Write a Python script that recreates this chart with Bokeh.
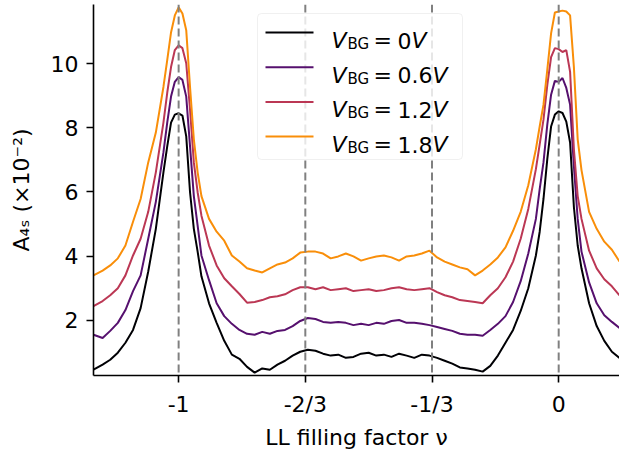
from bokeh.plotting import figure
from bokeh.models import Range1d, FixedTicker, Span, BoxAnnotation, Label, Arrow, CustomJSTickFormatter
from bokeh.embed import file_html
from bokeh.resources import INLINE

# ---------------- data ----------------
nu = [-1.224, -1.20, -1.18, -1.16, -1.14, -1.12, -1.10, -1.08, -1.06, -1.04,
      -1.03, -1.02, -1.01, -1.00, -0.99, -0.98, -0.97, -0.96, -0.95, -0.94,
      -0.92, -0.90, -0.88, -0.86, -0.84, -0.82, -0.80, -0.78, -0.76, -0.74,
      -0.72, -0.70, -0.68, -0.66, -0.64, -0.62, -0.60, -0.58, -0.56, -0.54,
      -0.52, -0.50, -0.48, -0.46, -0.44, -0.42, -0.40, -0.38, -0.36, -0.34,
      -0.32, -0.30, -0.28, -0.26, -0.24, -0.22, -0.20, -0.18, -0.16, -0.14,
      -0.12, -0.10, -0.08, -0.06, -0.05, -0.04, -0.03, -0.02, -0.01, 0.00,
      0.01, 0.02, 0.03, 0.04, 0.05, 0.06, 0.08, 0.10, 0.12, 0.14, 0.16]

a_0v = [0.46, 0.62, 0.77, 0.99, 1.30, 1.70, 2.38, 3.52, 4.85, 6.61,
        7.42, 8.16, 8.41, 8.45, 8.38, 7.73, 5.99, 4.85, 4.14, 3.37,
        2.53, 1.92, 1.36, 0.93, 0.80, 0.55, 0.37, 0.50, 0.46, 0.62,
        0.74, 0.90, 1.02, 1.08, 1.05, 0.96, 0.90, 0.93, 0.83, 0.86,
        0.96, 0.99, 0.90, 0.93, 0.86, 0.96, 0.90, 0.83, 0.93, 0.90,
        0.83, 0.74, 0.65, 0.53, 0.50, 0.46, 0.40, 0.58, 0.90, 1.30,
        1.70, 2.29, 3.00, 4.02, 4.76, 5.78, 7.02, 8.04, 8.41, 8.51,
        8.46, 8.19, 7.54, 5.53, 4.33, 3.62, 2.53, 1.82, 1.36, 1.02, 0.83]

a_06v = [1.55, 1.45, 1.67, 1.92, 2.32, 2.91, 3.40, 4.54, 5.69, 7.23,
         8.16, 8.97, 9.43, 9.58, 9.49, 8.97, 7.42, 5.87, 4.95, 4.02,
         3.25, 2.53, 2.13, 1.89, 1.70, 1.58, 1.55, 1.64, 1.58, 1.67,
         1.70, 1.82, 1.98, 2.07, 2.04, 1.95, 1.92, 1.95, 1.92, 1.85,
         1.89, 1.85, 1.92, 1.89, 1.98, 2.01, 1.92, 1.92, 1.89, 1.85,
         1.79, 1.73, 1.67, 1.58, 1.55, 1.55, 1.52, 1.70, 1.89, 2.13,
         2.57, 3.22, 4.08, 5.16, 6.09, 6.92, 8.10, 9.03, 9.46, 9.43,
         9.55, 9.24, 8.72, 6.80, 5.16, 4.14, 3.18, 2.53, 2.16, 1.95, 1.76]

a_12v = [2.44, 2.60, 2.78, 3.00, 3.40, 4.02, 4.54, 5.38, 6.61, 8.16,
         9.09, 9.89, 10.42, 10.57, 10.48, 10.01, 8.56, 6.92, 5.99, 5.26,
         4.33, 3.71, 3.31, 3.06, 2.82, 2.55, 2.57, 2.63, 2.72, 2.75,
         2.81, 2.94, 3.03, 3.03, 2.97, 3.03, 2.94, 2.97, 3.00, 2.91,
         2.94, 2.97, 2.91, 2.94, 3.00, 3.03, 2.97, 2.94, 2.97, 3.00,
         2.88, 2.78, 2.72, 2.63, 2.60, 2.57, 2.53, 2.78, 3.00, 3.34,
         3.83, 4.54, 5.47, 6.71, 7.48, 8.25, 9.33, 10.20, 10.48, 10.45,
         10.36, 10.42, 9.74, 7.33, 5.87, 5.16, 4.17, 3.62, 3.28, 3.06, 2.78]

a_18v = [3.40, 3.55, 3.71, 3.93, 4.33, 5.07, 5.78, 6.92, 7.85, 9.27,
         10.11, 10.97, 11.50, 11.75, 11.56, 11.04, 9.27, 7.64, 6.61, 5.87,
         5.16, 4.76, 4.48, 4.02, 3.83, 3.62, 3.55, 3.49, 3.62, 3.74,
         3.80, 3.93, 4.11, 4.14, 4.14, 4.08, 3.93, 3.99, 4.08, 3.99,
         3.86, 3.93, 3.99, 4.02, 3.96, 3.86, 3.99, 4.02, 4.08, 4.17,
         3.96, 3.83, 3.74, 3.65, 3.59, 3.40, 3.55, 3.74, 3.96, 4.27,
         4.79, 5.38, 6.21, 7.33, 8.04, 8.72, 9.80, 10.94, 11.59, 11.62,
         11.65, 11.62, 11.50, 9.89, 7.64, 6.68, 5.38, 4.85, 4.45, 4.20, 3.83]

series = [a_0v, a_06v, a_12v, a_18v]
vbg_labels = ["0", "0.6", "1.2", "1.8"]
colors = ["#000004", "#56106e", "#bb3754", "#f98e09"]

x_ticks = [-1.0, -2.0 / 3.0, -1.0 / 3.0, 0.0]
x_tick_labels = ["-1", "-2/3", "-1/3", "0"]
y_ticks = [2, 4, 6, 8, 10]

FONT = "DejaVu Sans"
FS = 22
SUB = 15

# approximate DejaVu Sans advance widths (em) for composing the legend text
ADV = {"0": 0.636, "1": 0.636, "2": 0.636, "3": 0.636, "4": 0.636, "5": 0.636,
       "6": 0.636, "7": 0.636, "8": 0.636, "9": 0.636, ".": 0.318}


def text_w(s, size):
    return sum(ADV.get(ch, 0.636) for ch in s) * size


# ---------------- figure ----------------
p = figure(width=619, height=452,
           x_range=Range1d(-1.224, 0.160), y_range=Range1d(0.28, 11.84),
           output_backend="svg", toolbar_location=None,
           min_border_left=93, min_border_right=0, min_border_top=4, min_border_bottom=74)
p.outline_line_color = None
p.grid.visible = False
p.background_fill_color = "white"
p.border_fill_color = "white"

for ax in (p.xaxis[0], p.yaxis[0]):
    ax.axis_line_color = "black"
    ax.axis_line_width = 1.6
    ax.major_tick_line_color = "black"
    ax.major_tick_line_width = 1.6
    ax.major_tick_out = 7
    ax.major_tick_in = 0
    ax.minor_tick_out = 0
    ax.minor_tick_in = 0
    ax.major_label_text_font = FONT
    ax.major_label_text_font_size = f"{FS}px"
    ax.major_label_text_color = "black"
    ax.axis_label_text_font = FONT
    ax.axis_label_text_font_size = f"{FS}px"
    ax.axis_label_text_font_style = "normal"
    ax.axis_label_text_color = "black"

p.xaxis.ticker = FixedTicker(ticks=x_ticks)
p.xaxis.formatter = CustomJSTickFormatter(
    args=dict(vals=x_ticks, labs=x_tick_labels),
    code="for (let i = 0; i < vals.length; i++) { if (Math.abs(vals[i] - tick) < 1e-9) return labs[i]; } return '';")
p.xaxis.major_label_standoff = 9
p.xaxis.axis_label = "LL filling factor \u03bd"
p.xaxis.axis_label_standoff = 5

p.yaxis.ticker = FixedTicker(ticks=y_ticks)
p.yaxis.major_label_standoff = 8
p.yaxis.axis_label = "A\u2084\u209b (\u00d710\u207b\u00b2)"
p.yaxis.axis_label_standoff = 14

# ---------------- curves ----------------
for ys, c in zip(series, colors):
    p.line(nu, ys, line_color=c, line_width=2)

# dashed guides at the tick positions
for v in x_ticks:
    p.add_layout(Span(location=v, dimension="height", line_color="#808080",
                      line_dash="8 4", line_width=2))

# ---------------- legend (screen units, relative to the frame) ----------------
box = BoxAnnotation(left=164, right=369, bottom=216, top=362,
                    left_units="screen", right_units="screen",
                    top_units="screen", bottom_units="screen",
                    fill_color="white", fill_alpha=0.8,
                    line_color="#cccccc", line_width=1, border_radius=4)
p.add_layout(box)

common = dict(x_units="screen", y_units="screen", text_font=FONT,
              text_color="black", text_baseline="alphabetic", text_align="left")

row_line_y = 343
row_base_y = 335
step = 34.7
for i, (lab, c) in enumerate(zip(vbg_labels, colors)):
    ly = row_line_y - i * step
    by = row_base_y - i * step
    p.add_layout(Arrow(end=None, x_start=172, y_start=ly, x_end=220, y_end=ly,
                       start_units="screen", end_units="screen",
                       line_color=c, line_width=2))
    p.add_layout(Label(x=238, y=by, text="V", text_font_size=f"{FS}px",
                       text_font_style="italic", **common))
    p.add_layout(Label(x=254, y=by - 3.5, text="BG", text_font_size=f"{SUB}px", **common))
    p.add_layout(Label(x=280, y=by, text="=", text_font_size=f"{FS}px", **common))
    p.add_layout(Label(x=304, y=by, text=lab, text_font_size=f"{FS}px", **common))
    p.add_layout(Label(x=304 + text_w(lab, FS), y=by, text="V", text_font_size=f"{FS}px",
                       text_font_style="italic", **common))

open("out.html", "w").write(file_html(p, INLINE))
